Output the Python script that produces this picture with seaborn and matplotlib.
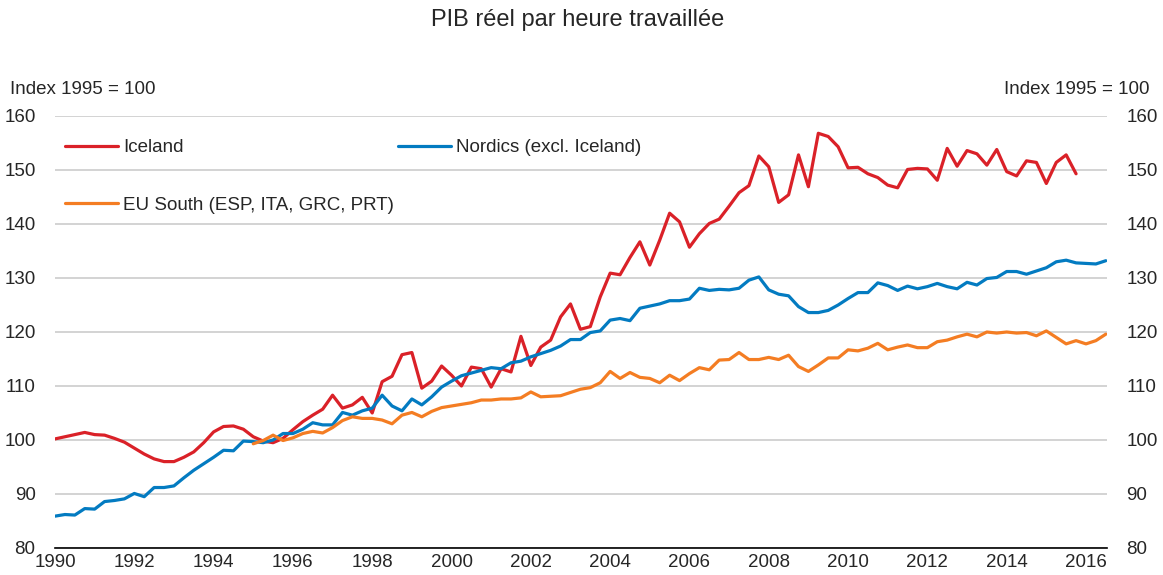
import numpy as np
import pandas as pd
import seaborn as sns
import matplotlib.pyplot as plt


# quarterly values, index 1995 = 100
iceland = [
    100.2, 100.6, 101.0, 101.4,  # 1990
    101.0, 100.9, 100.3, 99.6,
    98.5, 97.4, 96.5, 96.0,
    96.0, 96.8, 97.8, 99.5,
    101.5, 102.5, 102.6, 102.0,
    100.6, 99.8, 99.5, 100.3,  # 1995
    101.9, 103.4, 104.6, 105.7,
    108.3, 105.9, 106.5, 107.9,
    105.0, 110.8, 111.8, 115.8,
    116.2, 109.6, 110.9, 113.7,
    112.0, 110.0, 113.5, 113.2,  # 2000
    109.8, 113.2, 112.6, 119.2,
    113.8, 117.2, 118.5, 122.8,
    125.2, 120.5, 121.0, 126.5,
    130.9, 130.6, 133.8, 136.7,
    132.4, 137.0, 142.0, 140.4,  # 2005
    135.7, 138.2, 140.1, 140.9,
    143.3, 145.8, 147.1, 152.6,
    150.6, 144.0, 145.4, 152.8,
    146.9, 156.8, 156.2, 154.3,
    150.4, 150.5, 149.3, 148.6,  # 2010
    147.2, 146.7, 150.1, 150.3,
    150.2, 148.1, 154.0, 150.7,
    153.6, 153.0, 150.9, 153.8,
    149.7, 148.9, 151.7, 151.4,
    147.5, 151.4, 152.8, 149.3,  # 2015
]

nordics = [
    85.9, 86.2, 86.1, 87.3,  # 1990
    87.2, 88.6, 88.8, 89.1,
    90.1, 89.5, 91.2, 91.2,
    91.5, 93.0, 94.4, 95.6,
    96.8, 98.1, 98.0, 99.8,
    99.7, 99.5, 100.0, 101.2,  # 1995
    101.2, 102.0, 103.2, 102.8,
    102.8, 105.1, 104.6, 105.4,
    105.9, 108.3, 106.3, 105.4,
    107.6, 106.5, 108.0, 109.8,
    110.9, 111.9, 112.4, 112.9,  # 2000
    113.4, 113.2, 114.3, 114.6,
    115.4, 116.0, 116.6, 117.4,
    118.6, 118.6, 119.9, 120.2,
    122.2, 122.5, 122.1, 124.4,
    124.8, 125.2, 125.8, 125.8,  # 2005
    126.1, 128.1, 127.7, 127.9,
    127.8, 128.1, 129.6, 130.2,
    127.8, 127.0, 126.7, 124.7,
    123.6, 123.6, 124.0, 125.0,
    126.2, 127.3, 127.3, 129.1,  # 2010
    128.6, 127.7, 128.5, 128.0,
    128.4, 129.0, 128.4, 128.0,
    129.2, 128.7, 129.9, 130.1,
    131.2, 131.2, 130.7, 131.3,
    131.9, 133.0, 133.3, 132.8,  # 2015
    132.7, 132.6, 133.2,
]

eu_south = [
    99.3, 99.9, 100.9, 99.9,  # 1995
    100.4, 101.2, 101.6, 101.3,
    102.3, 103.6, 104.3, 104.0,
    104.0, 103.7, 103.0, 104.6,
    105.1, 104.3, 105.3, 106.0,
    106.3, 106.6, 106.9, 107.4,  # 2000
    107.4, 107.6, 107.6, 107.8,
    108.9, 108.0, 108.1, 108.2,
    108.8, 109.4, 109.7, 110.6,
    112.7, 111.4, 112.5, 111.6,
    111.4, 110.6, 112.0, 111.0,  # 2005
    112.3, 113.4, 113.0, 114.8,
    114.9, 116.2, 114.9, 114.9,
    115.3, 114.9, 115.7, 113.6,
    112.7, 113.9, 115.2, 115.2,
    116.7, 116.5, 117.0, 117.9,  # 2010
    116.7, 117.2, 117.6, 117.1,
    117.1, 118.2, 118.5, 119.1,
    119.6, 119.1, 120.0, 119.8,
    120.0, 119.8, 119.9, 119.3,
    120.2, 119.0, 117.8, 118.4,  # 2015
    117.8, 118.4, 119.6,
]

series = [
    ('Iceland', 1990, iceland, '#DA2128'),
    ('Nordics (excl. Iceland)', 1990, nordics, '#037BC1'),
    ('EU South (ESP, ITA, GRC, PRT)', 1995, eu_south, '#F47D23'),
]

sns.set_style('white')
plt.rcParams['font.family'] = ['Liberation Sans', 'DejaVu Sans']
plt.rcParams['font.size'] = 13.5

fig = plt.figure(figsize=(11.63, 5.75), dpi=100)
ax = fig.add_axes([55 / 1163, 1 - 548 / 575, 1052 / 1163, 432 / 575])

for name, start, vals, col in series:
    df = pd.DataFrame({'date': start + np.arange(len(vals)) * 0.25, 'value': vals})
    sns.lineplot(data=df, x='date', y='value', ax=ax, color=col, linewidth=2.3, label=name)

ax.set_xlim(1990, 2016.53)
ax.set_ylim(80, 160)
ax.set_xticks(range(1990, 2017, 2))
ax.set_yticks(range(80, 161, 10))
ax.set_xlabel('')
ax.set_ylabel('')
ax.grid(axis='y', color='#c8c8c8', linewidth=1.1)
ax.set_axisbelow(True)
for s in ['top', 'left', 'right']:
    ax.spines[s].set_visible(False)
ax.spines['bottom'].set_color('black')
ax.spines['bottom'].set_linewidth(1.2)

ax.tick_params(axis='x', direction='in', length=5, width=1.2, color='black', pad=4)
ax.tick_params(axis='y', length=0, pad=14, labelright=True)

h, l = ax.get_legend_handles_labels()
order = [0, 2, 1]
ax.legend([h[i] for i in order], [l[i] for i in order], ncol=2, frameon=False,
          loc='upper left', bbox_to_anchor=(0.0095, 0.946), borderpad=0, borderaxespad=0,
          handlelength=2.83, handletextpad=0.27, columnspacing=0.2, labelspacing=2.15)

fig.text(0.497, 1 - 20 / 575, 'PIB réel par heure travaillée', ha='center', va='center',
         fontsize=17)
fig.text(10 / 1163, 1 - 90 / 575, 'Index 1995 = 100', ha='left', va='center')
fig.text(1150 / 1163, 1 - 90 / 575, 'Index 1995 = 100', ha='right', va='center')

fig.savefig('out.png', dpi=100)
